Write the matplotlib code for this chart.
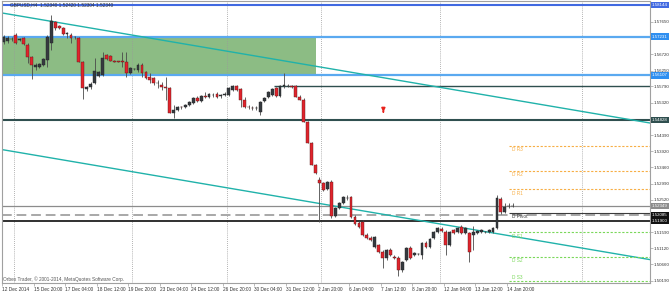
import numpy as np
import matplotlib
matplotlib.use('Agg')
from matplotlib import pyplot as plt
from matplotlib.patches import Rectangle
import matplotlib.transforms as mtransforms

plt.rcParams['font.family'] = ['Liberation Sans', 'DejaVu Sans']

header = 'GBPUSD,H4  1.52340 1.52420 1.52304 1.52340'
copyright_text = 'Orbex Trader, \u00a9 2001-2014, MetaQuotes Software Corp.'

# H4 candles, 12 Dec 2014 12:00 .. 15 Jan 2015 00:00
opens = [1.5707, 1.5710, 1.5716, 1.5727, 1.5713, 1.5719, 1.5699, 1.5664, 1.5635, 1.5635,
         1.5641, 1.5655, 1.5704, 1.5765, 1.5753, 1.5748, 1.5730, 1.5727, 1.5722, 1.5719,
         1.5650, 1.5572, 1.5578, 1.5589, 1.5609, 1.5612, 1.5670, 1.5667, 1.5652, 1.5652,
         1.5652, 1.5650, 1.5618, 1.5629, 1.5627, 1.5641, 1.5621, 1.5606, 1.5603, 1.5589,
         1.5583, 1.5578, 1.5575, 1.5503, 1.5511, 1.5520, 1.5520, 1.5526, 1.5531, 1.5546,
         1.5537, 1.5552, 1.5549, 1.5554, 1.5557, 1.5552, 1.5554, 1.5554, 1.5569, 1.5580,
         1.5572, 1.5540, 1.5520, 1.5517, 1.5517, 1.5505, 1.5537, 1.5549, 1.5554, 1.5575,
         1.5552, 1.5580, 1.5580, 1.5580, 1.5580, 1.5549, 1.5540, 1.5477, 1.5416, 1.5353,
         1.5309, 1.5301, 1.5283, 1.5304, 1.5205, 1.5229, 1.5243, 1.5257, 1.5260, 1.5203,
         1.5185, 1.5188, 1.5151, 1.5142, 1.5116, 1.5122, 1.5102, 1.5084, 1.5107, 1.5087,
         1.5084, 1.5050, 1.5079, 1.5113, 1.5093, 1.5096, 1.5093, 1.5128, 1.5116, 1.5142,
         1.5159, 1.5168, 1.5159, 1.5122, 1.5165, 1.5159, 1.5174, 1.5156, 1.5156, 1.5151,
         1.5156, 1.5159, 1.5159, 1.5159, 1.5159, 1.5171, 1.5254, 1.5217, 1.5234, 1.52340]
highs = [1.5727, 1.5725, 1.5722, 1.5733, 1.5719, 1.5722, 1.5704, 1.5667, 1.5647, 1.5647,
         1.5661, 1.5727, 1.5785, 1.5768, 1.5756, 1.5751, 1.5736, 1.5733, 1.5725, 1.5722,
         1.5652, 1.5580, 1.5592, 1.5661, 1.5624, 1.5678, 1.5673, 1.5670, 1.5655, 1.5653,
         1.5678, 1.5678, 1.5635, 1.5632, 1.5647, 1.5647, 1.5624, 1.5618, 1.5606, 1.5598,
         1.5592, 1.5606, 1.5578, 1.5526, 1.5523, 1.5523, 1.5528, 1.5537, 1.5549, 1.5552,
         1.5554, 1.5563, 1.5560, 1.5560, 1.5563, 1.5557, 1.5563, 1.5578, 1.5583, 1.5583,
         1.5575, 1.5549, 1.5526, 1.5523, 1.5523, 1.5537, 1.5549, 1.5566, 1.5575, 1.5578,
         1.5583, 1.5618, 1.5586, 1.5583, 1.5583, 1.5554, 1.5546, 1.5479, 1.5419, 1.5355,
         1.5318, 1.5304, 1.5306, 1.5309, 1.5231, 1.5246, 1.5263, 1.5266, 1.5263, 1.5208,
         1.5191, 1.5194, 1.5156, 1.5148, 1.5148, 1.5125, 1.5107, 1.5110, 1.5113, 1.5093,
         1.5090, 1.5076, 1.5116, 1.5119, 1.5102, 1.5099, 1.5130, 1.5133, 1.5142, 1.5162,
         1.5174, 1.5174, 1.5165, 1.5162, 1.5168, 1.5174, 1.5180, 1.5174, 1.5159, 1.5177,
         1.5165, 1.5168, 1.5162, 1.5168, 1.5174, 1.5266, 1.5260, 1.5243, 1.5243, 1.52420]
lows = [1.5702, 1.5704, 1.5710, 1.5702, 1.5710, 1.5699, 1.5647, 1.5601, 1.5627, 1.5632,
        1.5638, 1.5635, 1.5684, 1.5742, 1.5745, 1.5727, 1.5719, 1.5704, 1.5716, 1.5650,
        1.5543, 1.5566, 1.5572, 1.5586, 1.5606, 1.5609, 1.5655, 1.5652, 1.5650, 1.5650,
        1.5635, 1.5606, 1.5615, 1.5627, 1.5621, 1.5606, 1.5601, 1.5589, 1.5583, 1.5575,
        1.5569, 1.5540, 1.5503, 1.5488, 1.5508, 1.5514, 1.5517, 1.5523, 1.5528, 1.5534,
        1.5534, 1.5546, 1.5546, 1.5549, 1.5546, 1.5546, 1.5552, 1.5552, 1.5566, 1.5566,
        1.5520, 1.5517, 1.5514, 1.5511, 1.5511, 1.5497, 1.5534, 1.5546, 1.5552, 1.5549,
        1.5549, 1.5575, 1.5578, 1.5575, 1.5549, 1.5540, 1.5477, 1.5416, 1.5353, 1.5327,
        1.5188, 1.5278, 1.5280, 1.5200, 1.5203, 1.5226, 1.5240, 1.5252, 1.5200, 1.5180,
        1.5171, 1.5148, 1.5139, 1.5133, 1.5113, 1.5099, 1.5056, 1.5079, 1.5090, 1.5081,
        1.5032, 1.5044, 1.5076, 1.5081, 1.5090, 1.5093, 1.5081, 1.5113, 1.5113, 1.5139,
        1.5156, 1.5159, 1.5093, 1.5119, 1.5154, 1.5156, 1.5154, 1.5154, 1.5073, 1.5107,
        1.5154, 1.5156, 1.5156, 1.5156, 1.5156, 1.5168, 1.5211, 1.5214, 1.5229, 1.52304]
closes = [1.5722, 1.5719, 1.5717, 1.5704, 1.5716, 1.5702, 1.5664, 1.5641, 1.5641, 1.5644,
          1.5658, 1.5722, 1.5768, 1.5748, 1.5748, 1.5730, 1.5733, 1.5719, 1.5721, 1.5650,
          1.5575, 1.5578, 1.5586, 1.5624, 1.5621, 1.5661, 1.5658, 1.5652, 1.5651, 1.5651,
          1.5651, 1.5618, 1.5632, 1.5630, 1.5641, 1.5618, 1.5603, 1.5598, 1.5589, 1.5590,
          1.5578, 1.5575, 1.5503, 1.5511, 1.5520, 1.5519, 1.5526, 1.5534, 1.5546, 1.5537,
          1.5552, 1.5549, 1.5557, 1.5555, 1.5549, 1.5554, 1.5557, 1.5575, 1.5580, 1.5569,
          1.5540, 1.5520, 1.5519, 1.5516, 1.5518, 1.5534, 1.5546, 1.5563, 1.5572, 1.5552,
          1.5580, 1.5583, 1.5581, 1.5578, 1.5549, 1.5540, 1.5477, 1.5416, 1.5353, 1.5330,
          1.5301, 1.5280, 1.5304, 1.5205, 1.5229, 1.5243, 1.5260, 1.5258, 1.5203, 1.5182,
          1.5174, 1.5151, 1.5142, 1.5136, 1.5145, 1.5102, 1.5084, 1.5107, 1.5093, 1.5084,
          1.5050, 1.5073, 1.5113, 1.5084, 1.5099, 1.5097, 1.5128, 1.5116, 1.5139, 1.5159,
          1.5171, 1.5162, 1.5122, 1.5159, 1.5156, 1.5171, 1.5156, 1.5171, 1.5102, 1.5159,
          1.5162, 1.5165, 1.5160, 1.5165, 1.5171, 1.5257, 1.5217, 1.5231, 1.5235, 1.52340]

xtick_bars = [0, 8, 16, 24, 32, 40, 48, 56, 64, 72, 80, 88, 96, 104, 112, 120, 128]
xtick_labels = ['12 Dec 2014', '15 Dec 20:00', '17 Dec 04:00', '18 Dec 12:00', '19 Dec 20:00',
                '23 Dec 04:00', '24 Dec 12:00', '26 Dec 20:00', '30 Dec 04:00', '31 Dec 12:00',
                '2 Jan 20:00', '6 Jan 04:00', '7 Jan 12:00', '8 Jan 20:00', '12 Jan 04:00',
                '13 Jan 12:00', '14 Jan 20:00']
week_separators = [2.5, 32.5, 56.5, 80.5, 110.5, 146.5]

price_ticks = [1.57650, 1.56720, 1.56250, 1.55790, 1.55320, 1.54390, 1.53920,
               1.53460, 1.52990, 1.52520, 1.51590, 1.51120, 1.50660, 1.50190]

# horizontal line objects
hline_prices = [1.58144, 1.57231, 1.56107, 1.54828, 1.52349, 1.52085, 1.51900]
hline_colors = ['#4169e1', '#5aa9f0', '#5aa9f0', '#2f4f4f', '#8c8c8c', '#a8a8a8', '#202020']
hline_box_colors = ['#4169e1', '#2f8ff0', '#2f8ff0', '#2f4f4f', '#8c8c8c', '#111111', '#111111']
hline_widths = [1.5, 1.6, 1.6, 1.5, 0.9, 1.4, 1.3]
hline_styles = ['-', '-', '-', '-', '-', (0, (5, 2.5)), '-']

ray_start, ray_price = 68.4, 1.55790
zone_start, zone_end = -1, 79.2
zone_low, zone_high = 1.56107, 1.57231

trend_upper = [(0, 1.5790), (160, 1.5481)]
trend_lower = [(0, 1.5396), (160, 1.5087)]

arrow_bar, arrow_top, arrow_bottom = 96.2, 1.5514, 1.5497

pivot_names = ['D R3', 'D R2', 'D R1', 'D Pivot', 'D S1', 'D S2', 'D S3']
pivot_prices = [1.54073, 1.53361, 1.52820, 1.52140, 1.51585, 1.50881, 1.50180]
pivot_colors = ['#f7ae45', '#f7ae45', '#f7ae45', '#3c3c3c', '#7ad85a', '#7ad85a', '#7ad85a']
pivot_start = 128

W, H = 670, 292
fig = plt.figure(figsize=(W / 100, H / 100), dpi=100)
ax = fig.add_axes([2 / W, 9 / H, 648 / W, 282 / H])
ax.set_xlim(-0.25, 163.8)
ax.set_ylim(1.50122, 1.58255)

o = np.array(opens); h = np.array(highs); l = np.array(lows); c = np.array(closes)
x = np.arange(len(o))
up = c >= o

# zone and lines
ax.add_patch(Rectangle((zone_start, zone_low), zone_end - zone_start, zone_high - zone_low,
                       facecolor='#8cbc84', edgecolor='none', zorder=1))
for s in week_separators:
    ax.axvline(s, color='#9a9a9a', lw=0.6, ls=(0, (1, 1.5)), zorder=1)
for p, col, lw, ls in zip(hline_prices, hline_colors, hline_widths, hline_styles):
    ax.axhline(p, color=col, lw=lw, ls=ls, zorder=2)
ax.hlines(ray_price, ray_start, 163.8, color='#2f4f4f', lw=1.0, zorder=2)
ax.axline(trend_upper[0], trend_upper[1], color='#20b2aa', lw=1.0, zorder=2)
ax.axline(trend_lower[0], trend_lower[1], color='#20b2aa', lw=1.0, zorder=2)

# pivots
for name, p, col in zip(pivot_names, pivot_prices, pivot_colors):
    ls = '-' if name == 'D Pivot' else (0, (2, 1.5))
    ax.hlines(p, pivot_start, 163.8, color=col, lw=0.8, ls=ls, zorder=2)
    off = mtransforms.offset_copy(ax.transData, fig=fig, x=0, y=-1.0, units='points')
    va = 'top'
    if name == 'D S3':
        off = mtransforms.offset_copy(ax.transData, fig=fig, x=0, y=1.0, units='points')
        va = 'bottom'
    ax.text(pivot_start + 0.8, p, name, color=col, fontsize=3.4, va=va, ha='left',
            transform=off, zorder=5)

# candles
ax.vlines(x, l, h, color='#4a4a4a', lw=0.6, zorder=3)
body_lo = np.minimum(o, c)
body_h = np.maximum(np.abs(c - o), 0.00008)
ax.bar(x[up], body_h[up], bottom=body_lo[up], width=0.72, color='#353a40',
       edgecolor='#222222', linewidth=0.3, zorder=4)
ax.bar(x[~up], body_h[~up], bottom=body_lo[~up], width=0.72, color='#e0242c',
       edgecolor='#5a1a1a', linewidth=0.3, zorder=4)

ax.annotate('', xy=(arrow_bar, arrow_bottom), xytext=(arrow_bar, arrow_top),
            arrowprops=dict(arrowstyle='-|>', color='#e8231d', lw=1.2, mutation_scale=5),
            zorder=5)

# axes styling
for sp in ax.spines.values():
    sp.set_color('#a0a0a0')
    sp.set_linewidth(0.8)
ax.yaxis.tick_right()
ax.set_yticks(price_ticks, ['%.5f' % p for p in price_ticks])
ax.tick_params(axis='y', length=2, width=0.5, pad=0.8, labelsize=3.2, colors='#a0a0a0',
               labelcolor='#333333')
ax.set_xticks([b - 0.5 for b in xtick_bars], xtick_labels)
ax.tick_params(axis='x', length=2, width=0.5, pad=0.8, labelsize=3.4, colors='#a0a0a0',
               labelcolor='#333333')
for t in ax.get_xticklabels():
    t.set_ha('left')

ytrans = mtransforms.blended_transform_factory(ax.transAxes, ax.transData)
for p, bc in zip(hline_prices, hline_box_colors):
    ax.text(1.003, p, '%.5f' % p, transform=ytrans, fontsize=3.2, color='white',
            va='center', ha='left', clip_on=False, zorder=6,
            bbox=dict(boxstyle='square,pad=0.25', fc=bc, ec='none'))

ax.text(8 / 648, 1 - 4 / 282, header, transform=ax.transAxes, fontsize=3.4,
        color='#333333', va='center', ha='left', zorder=6)
ax.text(1 / 648, 4 / 282, copyright_text, transform=ax.transAxes, fontsize=3.4,
        color='#555555', va='center', ha='left', zorder=6)

fig.savefig('out.png', dpi=100)
